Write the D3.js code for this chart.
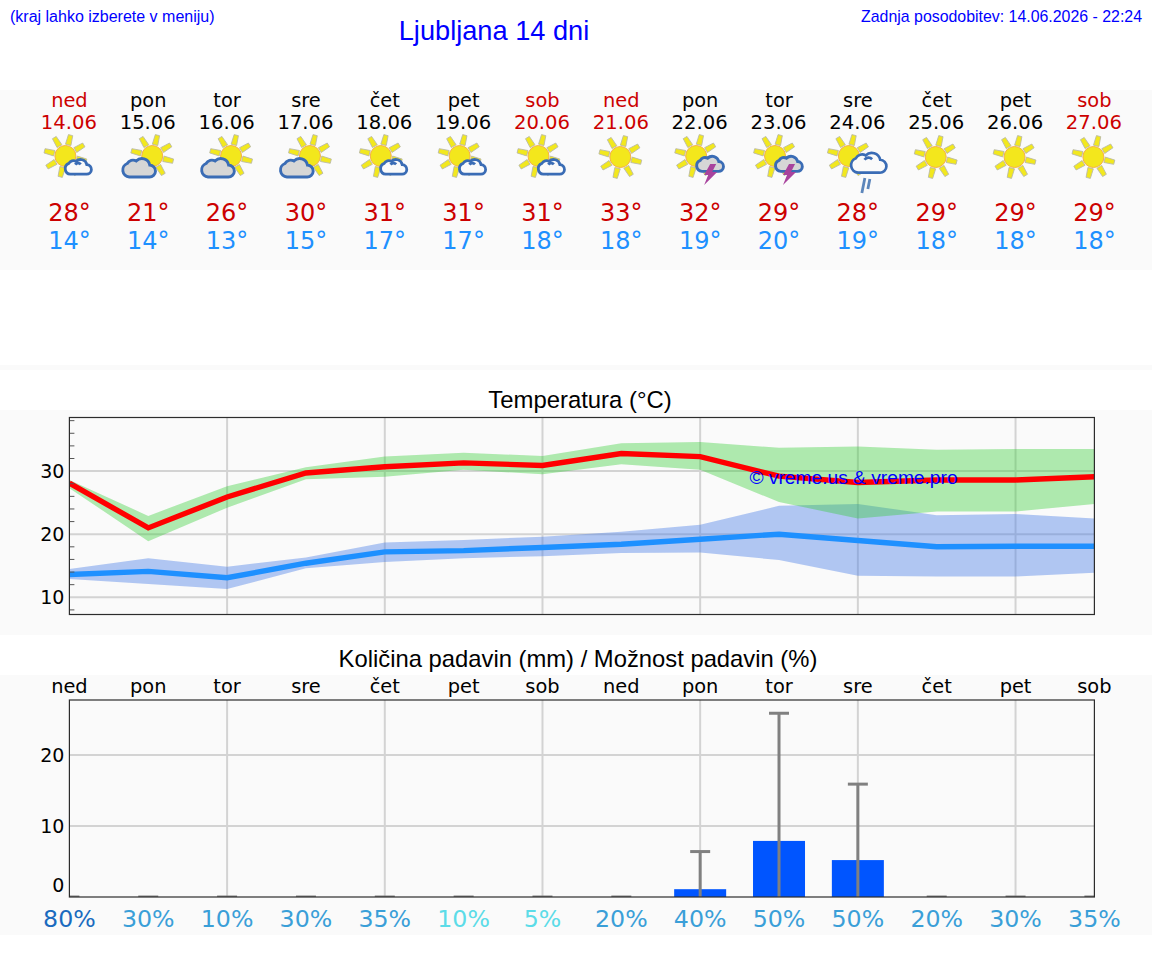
<!DOCTYPE html>
<html lang="sl">
<head>
<meta charset="utf-8">
<title>Ljubljana 14 dni</title>
<script src="https://cdn.jsdelivr.net/npm/d3@7/dist/d3.min.js"></script>
<style>
  html, body { margin: 0; padding: 0; background: #fff; }
  svg { display: block; }
  .dv { font-family: "DejaVu Sans", sans-serif; }
  .ls { font-family: "Liberation Sans", Arial, sans-serif; }
</style>
</head>
<body>
<svg id="chart" width="1152" height="975"></svg>
<script>
// Forecast values, one entry per day
const days = ["ned","pon","tor","sre","čet","pet","sob","ned","pon","tor","sre","čet","pet","sob"];
const dates = ["14.06","15.06","16.06","17.06","18.06","19.06","20.06","21.06","22.06","23.06","24.06","25.06","26.06","27.06"];
const icons = ["partly","cloudy","cloudy","cloudy","partly","partly","partly","clear","storm","storm","rain","clear","clear","clear"];
const tempMax = [28.1,21.0,25.9,29.7,30.7,31.3,30.9,32.8,32.3,29.2,28.2,28.6,28.6,29.1];
const tempMaxHigh = [28.6,22.9,27.6,30.6,32.3,32.9,32.4,34.4,34.6,33.7,33.9,33.4,33.5,33.5];
const tempMaxLow = [27.3,18.9,24.2,28.7,29.1,30.2,29.5,31.1,30.2,25.1,22.5,23.6,23.6,24.8];
const tempMin = [13.6,14.1,13.1,15.4,17.2,17.4,17.9,18.4,19.2,20.0,19.0,18.0,18.1,18.1];
const tempMinHigh = [14.5,16.2,14.85,16.3,18.7,19.1,19.6,20.4,21.5,24.5,24.8,23.0,23.2,22.5];
const tempMinLow = [12.9,12.1,11.3,14.6,15.6,16.2,16.5,17.0,17.1,15.9,13.4,13.3,13.3,13.9];
const rainAmount = [0,0,0,0,0,0,0,0,1.1,7.9,5.2,0,0,0];
const rainMax = [0,0,0,0,0,0,0,0,6.4,25.9,15.9,0,0,0];
const rainChance = [80,30,10,30,35,10,5,20,40,50,50,20,30,35];
const rainChanceTone = ["high","mid","mid","mid","mid","low","low","mid","mid","mid","mid","mid","mid","mid"];
const tempTicks = [10,20,30];
const tempMinorTicks = [8,12,14,16,18,22,24,26,28,32,34,36,38];
const rainTicks = [0,10,20];
const gridDays = [2,4,6,8,10,12];

const RED = "#cc0000", SKY = "#1e90ff", BLUE = "#0000ff";
const toneColor = { high: "#1a6bbf", mid: "#3a9fd8", low: "#5cdce8" };

const svg = d3.select("#chart");
const x = d3.scaleLinear().domain([0, 13]).range([69.4, 1094.4]);
const yTemp = d3.scaleLinear().domain([7.27, 38.5]).range([614.5, 417.5]);
const yRain = d3.scaleLinear().domain([0, 27.75]).range([897, 700]);

// Pale page bands behind each block
[[90,180],[365,5],[410,225],[675,260]].forEach(([y,h]) =>
  svg.append("rect").attr("x",0).attr("y",y).attr("width",1152).attr("height",h).attr("fill","#fafafa"));

function label(text, px, py, size, fill, cls, anchor) {
  return svg.append("text").attr("class", cls).attr("x", px).attr("y", py)
    .attr("font-size", size).attr("fill", fill).attr("text-anchor", anchor || "middle").text(text);
}

// Header
label("(kraj lahko izberete v meniju)", 10, 21.5, 16, BLUE, "ls", "start");
label("Ljubljana 14 dni", 494, 40, 27.2, BLUE, "ls");
label("Zadnja posodobitev: 14.06.2026 - 22:24", 1142, 21.5, 15.9, BLUE, "ls", "end");

// Weather glyphs
const cloudPath = "M-10,9 A7,7 0 0 1 -12,-4.5 A6.5,6.5 0 0 1 -3,-7 A8,8 0 0 1 10.5,-3 A6,6 0 0 1 10,9 Z";
const curlPath = "M-4,-3 A4.5,4.5 0 0 1 3,-3.5";
function drawSun(g, cx, cy) {
  const s = g.append("g").attr("transform", `translate(${cx},${cy})`);
  d3.range(8).forEach(i => {
    s.append("path").attr("d", "M-2.8,-11.5 L2.8,-11.5 L2.2,-21.5 L-2.2,-21.5 Z")
      .attr("transform", `rotate(${i * 45 + 14})`)
      .attr("fill", "#f2e81e").attr("stroke", "#b9b9a6").attr("stroke-width", 0.8);
  });
  s.append("circle").attr("r", 10.5).attr("fill", "#f3e71c").attr("stroke", "#f4b04a").attr("stroke-width", 1);
}
function drawCloud(g, cx, cy, k, fill, strokeW) {
  const c = g.append("g").attr("transform", `translate(${cx},${cy}) scale(${k})`)
    .attr("stroke", "#3a6cb5").attr("stroke-width", strokeW / k);
  c.append("path").attr("d", cloudPath).attr("fill", fill);
  if (fill === "#fafafa") c.append("path").attr("d", curlPath).attr("fill", "none");
}
function drawIcon(kind, cx) {
  const g = svg.append("g");
  if (kind === "clear") drawSun(g, cx - 1, 157);
  if (kind === "partly") {
    drawSun(g, cx - 4, 156);
    drawCloud(g, cx + 9, 167, 0.8, "#fafafa", 2.8);
  }
  if (kind === "cloudy") {
    drawSun(g, cx + 4, 156);
    drawCloud(g, cx - 9, 168, 1.0, "#d6d6d6", 2.9);
  }
  if (kind === "storm") {
    drawSun(g, cx - 4, 156);
    drawCloud(g, cx + 10, 164, 0.82, "#d6d6d6", 2.9);
    g.append("path").attr("transform", `translate(${cx + 8},174)`)
      .attr("d", "M2,-10 L8,-10 L4,-2 L9,-2 L-4,11 L0,1 L-4,1 Z").attr("fill", "#a8439d");
  }
  if (kind === "rain") {
    drawSun(g, cx - 9, 156);
    drawCloud(g, cx + 11, 163, 1.08, "#fafafa", 2.7);
    g.append("path").attr("d", `M${cx + 7},178 L${cx + 4},193 M${cx + 12},179 L${cx + 10},189`)
      .attr("fill", "none").attr("stroke", "#5c86bb").attr("stroke-width", 2.8);
  }
}

// Daily forecast row
days.forEach((d, i) => {
  const cx = x(i);
  const weekend = d === "ned" || d === "sob";
  label(d, cx, 107, 19.4, weekend ? RED : "#000", "dv");
  label(dates[i], cx - 0.5, 129, 19.6, weekend ? RED : "#000", "dv");
  drawIcon(icons[i], cx);
  label(Math.round(tempMax[i]) + "°", cx, 221, 24, RED, "dv");
  label(Math.round(tempMin[i]) + "°", cx, 249, 24, SKY, "dv");
});

// Shared plot helpers
function clipFor(id, y0, y1) {
  svg.append("clipPath").attr("id", id).append("rect")
    .attr("x", x(0)).attr("y", y0).attr("width", x(13) - x(0)).attr("height", y1 - y0);
}
function grid(yScale, ticks, y0, y1) {
  const g = svg.append("g").attr("stroke", "#d3d3d3").attr("stroke-width", 2);
  g.selectAll("line.h").data(ticks).join("line").attr("class","h")
    .attr("x1", x(0)).attr("x2", x(13)).attr("y1", yScale).attr("y2", yScale);
  g.selectAll("line.v").data(gridDays).join("line").attr("class","v")
    .attr("x1", x).attr("x2", x).attr("y1", y0).attr("y2", y1);
}
function yLabels(scale, ticks) {
  const ax = svg.append("g").attr("transform", `translate(${x(0)},0)`)
    .call(d3.axisLeft(scale).tickValues(ticks).tickSize(0).tickPadding(5).tickFormat(d3.format("d")));
  ax.select(".domain").remove();
  ax.selectAll("text").attr("class", "dv").attr("font-size", 19)
    .attr("font-family", null).attr("fill", "#000");
  return ax;
}
function frame(y0, y1) {
  svg.append("rect").attr("x", x(0)).attr("y", y0).attr("width", x(13) - x(0)).attr("height", y1 - y0)
    .attr("fill", "none").attr("stroke", "#2c2c2c").attr("stroke-width", 1.2);
}

// Temperature plot
label("Temperatura (°C)", 580, 408, 23.9, "#000", "ls");
clipFor("clip-temp", 417.5, 614.5);
grid(yTemp, tempTicks, 417.5, 614.5);

const band = (hi, lo) => d3.area().x((_, i) => x(i)).y0((_, i) => yTemp(lo[i])).y1((_, i) => yTemp(hi[i]));
const trace = d3.line().x((_, i) => x(i)).y(d => yTemp(d));
const tempLayer = svg.append("g").attr("clip-path", "url(#clip-temp)");
tempLayer.append("path").datum(tempMinHigh).attr("d", band(tempMinHigh, tempMinLow))
  .attr("fill", "#4a7fe6").attr("fill-opacity", 0.42);
tempLayer.append("path").datum(tempMaxHigh).attr("d", band(tempMaxHigh, tempMaxLow))
  .attr("fill", "#32cd32").attr("fill-opacity", 0.38);
tempLayer.append("path").datum(tempMin).attr("d", trace)
  .attr("fill", "none").attr("stroke", SKY).attr("stroke-width", 5.4);
tempLayer.append("path").datum(tempMax).attr("d", trace)
  .attr("fill", "none").attr("stroke", "#ff0000").attr("stroke-width", 5.4);

svg.append("g").attr("stroke", "#555").attr("stroke-width", 1)
  .selectAll("line").data(tempMinorTicks).join("line")
  .attr("x1", x(0)).attr("x2", x(0) + 5).attr("y1", yTemp).attr("y2", yTemp);
frame(417.5, 614.5);
yLabels(yTemp, tempTicks);
label("© vreme.us & vreme.pro", 853.5, 484, 19.2, BLUE, "ls");

// Precipitation plot
label("Količina padavin (mm) / Možnost padavin (%)", 578, 667, 23.8, "#000", "ls");
days.forEach((d, i) => label(d, x(i), 693, 19.4, "#000", "dv"));
clipFor("clip-rain", 700, 897);
grid(yRain, rainTicks.filter(t => t > 0), 700, 897);

const rainLayer = svg.append("g").attr("clip-path", "url(#clip-rain)");
rainLayer.selectAll("rect").data(rainAmount).join("rect")
  .attr("x", (_, i) => x(i) - 26).attr("width", 52)
  .attr("y", d => yRain(d)).attr("height", d => yRain(0) - yRain(d))
  .attr("fill", "#0055ff");
rainLayer.selectAll("line.stem").data(rainMax).join("line").attr("class", "stem")
  .attr("x1", (_, i) => x(i)).attr("x2", (_, i) => x(i))
  .attr("y1", yRain(0)).attr("y2", d => yRain(d))
  .attr("stroke", "#808080").attr("stroke-width", 3);
rainLayer.selectAll("line.cap").data(rainMax).join("line").attr("class", "cap")
  .attr("x1", (_, i) => x(i) - 10).attr("x2", (_, i) => x(i) + 10)
  .attr("y1", d => yRain(d)).attr("y2", d => yRain(d))
  .attr("stroke", "#808080").attr("stroke-width", 3);
frame(700, 897);

const rainAxis = yLabels(yRain, rainTicks);
rainAxis.selectAll("g.tick").filter(d => d === 0).select("text").attr("dy", "-0.28em");

rainChance.forEach((c, i) => label(c + "%", x(i), 927, 23.7, toneColor[rainChanceTone[i]], "dv"));
</script>
</body>
</html>
